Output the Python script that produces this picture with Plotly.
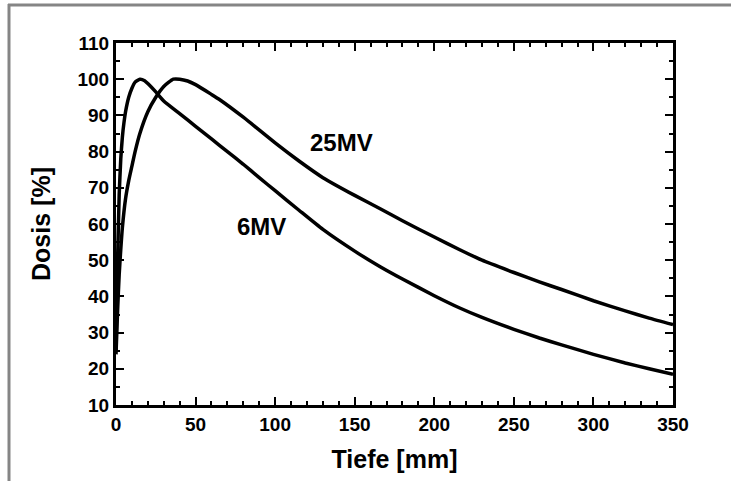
import plotly.graph_objects as go

# Depth (mm) and dose (%)
depth_6mv = [0, 1, 2, 3, 4, 5, 6, 8, 10, 12, 15, 18, 20, 25, 30, 40, 50, 60, 70, 80, 90,
             100, 115, 130, 150, 166, 180, 200, 216, 230, 250, 266, 280, 300, 320, 335, 350]
dose_6mv = [25, 50, 68, 78, 84, 88, 91, 95, 97.5, 99.2, 100, 99.6, 98.8, 96.5, 94, 90.5, 87,
            83.5, 80, 76.5, 72.8, 69.2, 63.8, 58.5, 52.5, 48.2, 44.8, 40.2, 36.8, 34.2, 30.9, 28.5,
            26.6, 24, 21.6, 20, 18.5]

depth_25mv = [0, 1, 2, 3, 4, 6, 8, 10, 12, 15, 20, 25, 30, 36, 40, 45, 50, 60, 65, 80, 100,
              115, 130, 150, 166, 180, 200, 216, 230, 250, 266, 280, 300, 320, 335, 350]
dose_25mv = [24, 36, 46, 53, 59, 67, 72, 76, 80, 85, 91, 95, 98, 100, 100, 99.5, 98.5, 95.8,
             94.4, 89.5, 82.4, 77.4, 72.8, 67.9, 64.2, 60.9, 56.4, 52.9, 50, 46.6, 44, 41.9, 38.8,
             36, 34, 32.2]

labels = ["6MV", "25MV"]
label_x = [91.6, 141.9]
label_y = [59.3, 82.6]

x_ticks = [0, 50, 100, 150, 200, 250, 300, 350]
y_ticks = [10, 20, 30, 40, 50, 60, 70, 80, 90, 100, 110]

FONT = "Liberation Sans, Arial, sans-serif"

fig = go.Figure()
for xs, ys, name in [(depth_6mv, dose_6mv, labels[0]), (depth_25mv, dose_25mv, labels[1])]:
    fig.add_trace(go.Scatter(x=xs, y=ys, mode="lines", name=name,
                             line=dict(color="black", width=3.5, shape="spline", smoothing=0.5),
                             showlegend=False, hoverinfo="skip"))

for t, xv, yv in zip(labels, label_x, label_y):
    fig.add_annotation(x=xv, y=yv, text="<b>%s</b>" % t, showarrow=False,
                       font=dict(family=FONT, size=24, color="black"))

axis_common = dict(
    showline=True, linecolor="black", linewidth=3, mirror="allticks",
    ticks="inside", ticklen=8, tickwidth=2, tickcolor="black",
    showgrid=False, zeroline=False,
    tickfont=dict(family=FONT, size=19, color="black"),
)

fig.update_xaxes(range=[0, 350], tickvals=x_ticks, ticktext=["<b>%d</b>" % v for v in x_ticks],
                 minor=dict(dtick=10, ticks="inside", ticklen=4, tickwidth=2, tickcolor="black"),
                 title=dict(text="<b>Tiefe [mm]</b>", font=dict(family=FONT, size=25, color="black"),
                            standoff=17),
                 **axis_common)
fig.update_yaxes(range=[10, 110], tickvals=y_ticks, ticktext=["<b>%d</b>" % v for v in y_ticks],
                 minor=dict(dtick=5, ticks="inside", ticklen=4, tickwidth=2, tickcolor="black"),
                 title=dict(text="<b>Dosis [%]</b>", font=dict(family=FONT, size=25, color="black"),
                            standoff=20),
                 **axis_common)

# gray frame (top and left edges)
fig.add_shape(type="line", xref="paper", yref="paper", x0=(8 - 116) / 557, x1=(731 - 116) / 557,
              y0=(405 - 5) / 362, y1=(405 - 5) / 362, line=dict(color="#858585", width=3))
fig.add_shape(type="line", xref="paper", yref="paper", x0=(9 - 116) / 557, x1=(9 - 116) / 557,
              y0=(405 - 4) / 362, y1=(405 - 481) / 362, line=dict(color="#858585", width=3))

fig.update_layout(width=731, height=481, margin=dict(l=116, r=58, t=43, b=76),
                  plot_bgcolor="white", paper_bgcolor="white")

fig.write_html("out.html", config={"displayModeBar": False})
